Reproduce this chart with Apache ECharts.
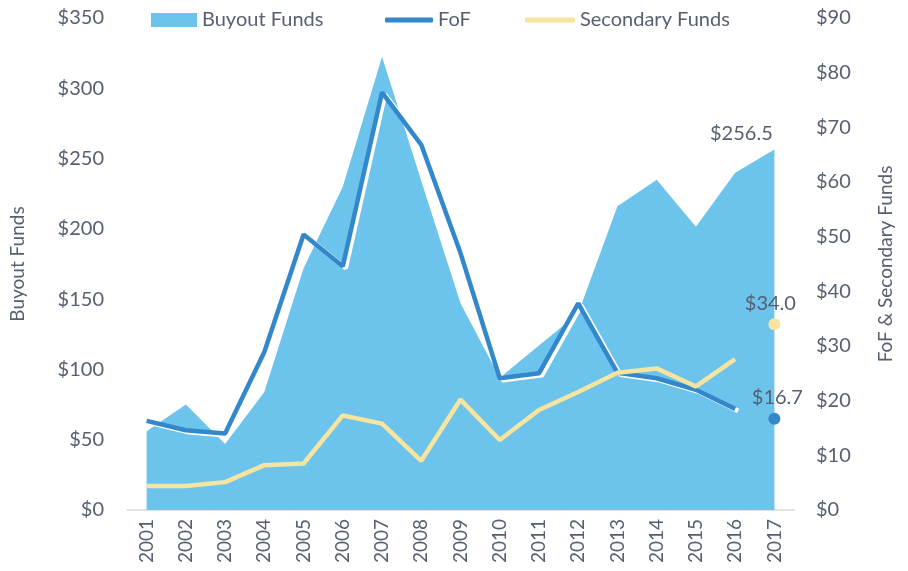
<!DOCTYPE html>
<html>
<head>
<meta charset="utf-8">
<script src="https://cdn.jsdelivr.net/npm/echarts@6/dist/echarts.min.js"></script>
<style>html,body{margin:0;padding:0;background:#fff}#c{width:908px;height:571px}</style>
</head>
<body>
<div id="c"></div>
<script>
var years = ['2001','2002','2003','2004','2005','2006','2007','2008','2009','2010','2011','2012','2013','2014','2015','2016','2017'];
var buyout = [56, 75, 47, 84, 172, 230, 322.5, 234, 147, 94, 117, 140, 216, 235, 201.5, 240, 256.5];
var fof = [16.3, 14.6, 14.0, 28.9, 50.4, 44.6, 76.4, 66.8, 47.0, 24.1, 25.0, 37.8, 25.1, 24.1, 22.0, 18.5, null];
var secondary = [4.4, 4.4, 5.1, 8.2, 8.5, 17.3, 15.8, 9.0, 20.2, 12.8, 18.3, 21.6, 25.1, 25.9, 22.6, 27.6, null];
var fof2017 = [null,null,null,null,null,null,null,null,null,null,null,null,null,null,null,null,16.7];
var sec2017 = [null,null,null,null,null,null,null,null,null,null,null,null,null,null,null,null,34.0];
var leftTicks = [0, 350, 50];
var rightTicks = [0, 90, 10];

var TXT = '#566071';
var FONT = 'Lato, "Open Sans", sans-serif';
var FW = 400;
var C_AREA = '#6cc3ec', C_FOF = '#3388cc', C_SEC = '#f7e49e';
var FS = 20;

var chart = echarts.init(document.getElementById('c'), null, {renderer:'canvas'});
var buyoutData = buyout.map(function(v, i){
  if (i === buyout.length - 1) {
    return {value: v, label: {show: true, position: 'top', offset: [-33, -1],
      formatter: function(p){ return '$' + p.value.toFixed(1); },
      color: TXT, fontSize: FS, fontFamily: FONT, fontWeight: FW}};
  }
  return v;
});
function ts(size){ return {color: TXT, fontSize: size, fontFamily: FONT, fontWeight: FW}; }
chart.setOption({
  animation: false,
  textStyle: {fontFamily: FONT, color: TXT},
  grid: {left: 126, right: 114, top: 18, bottom: 61, containLabel: false},
  legend: [
    {data: [{name:'Buyout Funds'}], left: 146, top: 5, icon: 'rect', itemWidth: 46, itemHeight: 14, itemGap: 5, textStyle: ts(FS)},
    {data: [{name:'FoF'}], left: 380, top: 5, icon: 'roundRect', itemWidth: 48, itemHeight: 5, itemGap: 5, textStyle: ts(FS)},
    {data: [{name:'Secondary Funds'}], left: 520, top: 5, icon: 'roundRect', itemWidth: 50, itemHeight: 5, itemGap: 5, textStyle: ts(FS)}
  ],
  xAxis: {
    type: 'category', data: years, boundaryGap: true,
    axisLine: {lineStyle: {color: '#d9d9d9', width: 1.5}},
    axisTick: {show: false},
    axisLabel: Object.assign({rotate: 90, margin: 9}, ts(19))
  },
  yAxis: [
    {type: 'value', min: leftTicks[0], max: leftTicks[1], interval: leftTicks[2],
     name: 'Buyout Funds', nameLocation: 'middle', nameGap: 100, nameRotate: 90,
     nameTextStyle: ts(19),
     axisLine: {show: false}, axisTick: {show: false}, splitLine: {show: false},
     axisLabel: Object.assign({margin: 23, formatter: function(v){return '$' + v;}}, ts(FS))},
    {type: 'value', min: rightTicks[0], max: rightTicks[1], interval: rightTicks[2],
     name: 'FoF & Secondary Funds', nameLocation: 'middle', nameGap: 82, nameRotate: 90,
     nameTextStyle: ts(19),
     axisLine: {show: false}, axisTick: {show: false}, splitLine: {show: false},
     axisLabel: Object.assign({margin: 22, formatter: function(v){return '$' + v;}}, ts(FS))}
  ],
  series: [
    {name: 'Buyout Funds', type: 'line', yAxisIndex: 0, data: buyoutData, symbol: 'circle', symbolSize: 0.01, showSymbol: true,
     lineStyle: {width: 0}, areaStyle: {color: C_AREA, opacity: 1}, itemStyle: {color: C_AREA}, z: 1},
    {name: 'FoF', type: 'line', yAxisIndex: 1, data: fof, symbol: 'none', connectNulls: false,
     lineStyle: {width: 4.5, color: C_FOF, shadowColor: '#ffffff', shadowBlur: 0, shadowOffsetX: 3, shadowOffsetY: 2},
     itemStyle: {color: C_FOF}, z: 3},
    {name: 'Secondary Funds', type: 'line', yAxisIndex: 1, data: secondary, symbol: 'none',
     lineStyle: {width: 4.5, color: C_SEC}, itemStyle: {color: C_SEC}, z: 4},
    {name: 'FoF 2017', type: 'scatter', yAxisIndex: 1, data: fof2017, symbol: 'circle', symbolSize: 12,
     itemStyle: {color: C_FOF, opacity: 1}, z: 5,
     label: Object.assign({show: true, position: 'top', distance: 5, offset: [3, 0],
       formatter: function(p){ return '$' + p.value.toFixed(1); }}, ts(FS))},
    {name: 'Secondary 2017', type: 'scatter', yAxisIndex: 1, data: sec2017, symbol: 'circle', symbolSize: 12,
     itemStyle: {color: C_SEC, opacity: 1}, z: 5,
     label: Object.assign({show: true, position: 'top', distance: 5, offset: [-4, 0],
       formatter: function(p){ return '$' + p.value.toFixed(1); }}, ts(FS))}
  ]
});
</script>
</body>
</html>
